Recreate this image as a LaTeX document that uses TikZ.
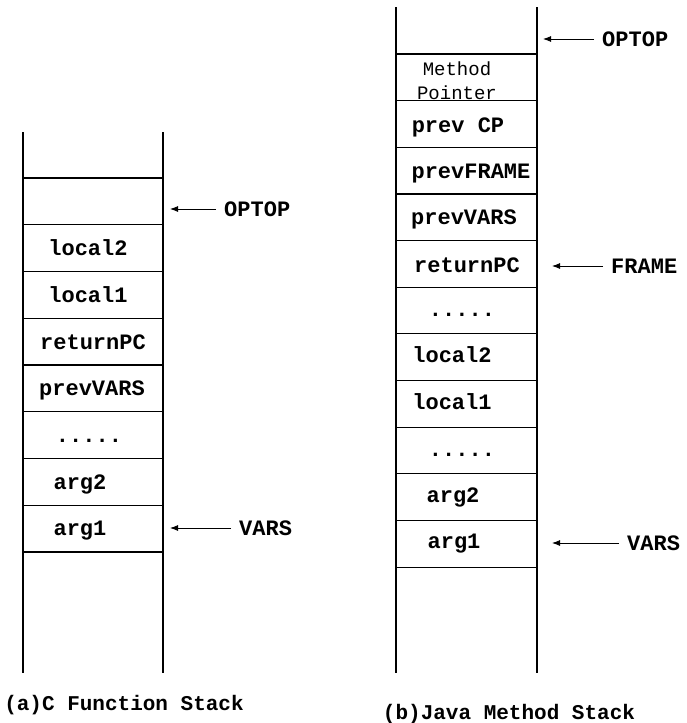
\documentclass[tikz,border=0pt]{standalone}
\usepackage{fontspec}
\setmonofont{Liberation Mono}
\usepackage{tikz}
\usetikzlibrary{arrows.meta}
\tikzset{
  wall/.style={line width=1.1pt},
  slot/.style={font=\fontsize{22}{26}\selectfont\ttfamily\bfseries, inner sep=0pt, anchor=base},
  reg/.style={font=\fontsize{22}{26}\selectfont\ttfamily\bfseries, inner sep=0pt, anchor=west},
  caption/.style={font=\fontsize{21}{26}\selectfont\ttfamily\bfseries, inner sep=0pt, anchor=base},
  ptr/.style={line width=0.9pt, -{Latex[length=8pt,width=6pt]}, shorten <=8pt}
}

\begin{document}
\begin{tikzpicture}[x=1pt, y=-1pt]
    \useasboundingbox (0,0) rectangle (687,723);

    % (a) C function stack
    \draw[wall] (23,132) -- (23,673);
    \draw[wall] (163,132) -- (163,673);
    \foreach \i in {0,...,8}
        \draw[wall] (23,178+46.75*\i) -- (163,178+46.75*\i);
    \node[slot] (cLocalTwo) at (88,255) {local2};
    \node[slot] (cLocalOne) at (88,302) {local1};
    \node[slot] (cRetPC) at (93,349) {returnPC};
    \node[slot] (cPrevVars) at (92,395) {prevVARS};
    \node[slot] (cDots) at (89,442) {.....};
    \node[slot] (cArgTwo) at (80,489) {arg2};
    \node[slot] (cArgOne) at (80,535) {arg1};
    \node[caption] (cCaption) at (124,710) {(a)C Function Stack};

    % pointers into the C stack
    \node[reg] (cOptop) at (224,209) {OPTOP};
    \coordinate (cOptopTip) at (170,209);
    \draw[ptr] (cOptop.west) -- (cOptopTip);
    \node[reg] (cVars) at (239,528) {VARS};
    \coordinate (cVarsTip) at (170,528);
    \draw[ptr] (cVars.west) -- (cVarsTip);

    % (b) Java method stack
    \draw[wall] (396,7) -- (396,673);
    \draw[wall] (537,7) -- (537,673);
    \foreach \i in {0,...,11}
        \draw[wall] (396,54+46.65*\i) -- (537,54+46.65*\i);
    \node[slot, font=\fontsize{19}{24}\selectfont\ttfamily] (jMethod) at (457,75) {Method};
    \node[slot, font=\fontsize{19}{24}\selectfont\ttfamily] (jPointer) at (457,99) {Pointer};
    \node[slot] (jPrevCP) at (458,132) {prev CP};
    \node[slot] (jPrevFrame) at (471,178) {prevFRAME};
    \node[slot] (jPrevVars) at (464,224) {prevVARS};
    \node[slot] (jRetPC) at (467,272) {returnPC};
    \node[slot] (jDotsTop) at (462,316) {.....};
    \node[slot] (jLocalTwo) at (452,362) {local2};
    \node[slot] (jLocalOne) at (452,409) {local1};
    \node[slot] (jDotsLow) at (462,456) {.....};
    \node[slot] (jArgTwo) at (453,502) {arg2};
    \node[slot] (jArgOne) at (454,548) {arg1};
    \node[caption] (jCaption) at (509,719) {(b)Java Method Stack};

    % pointers into the Java stack
    \node[reg] (jOptop) at (602,39) {OPTOP};
    \coordinate (jOptopTip) at (543,39);
    \draw[ptr] (jOptop.west) -- (jOptopTip);
    \node[reg] (jFrame) at (611,266) {FRAME};
    \coordinate (jFrameTip) at (552,266);
    \draw[ptr] (jFrame.west) -- (jFrameTip);
    \node[reg] (jVars) at (627,543) {VARS};
    \coordinate (jVarsTip) at (552,543);
    \draw[ptr] (jVars.west) -- (jVarsTip);
\end{tikzpicture}
\end{document}
